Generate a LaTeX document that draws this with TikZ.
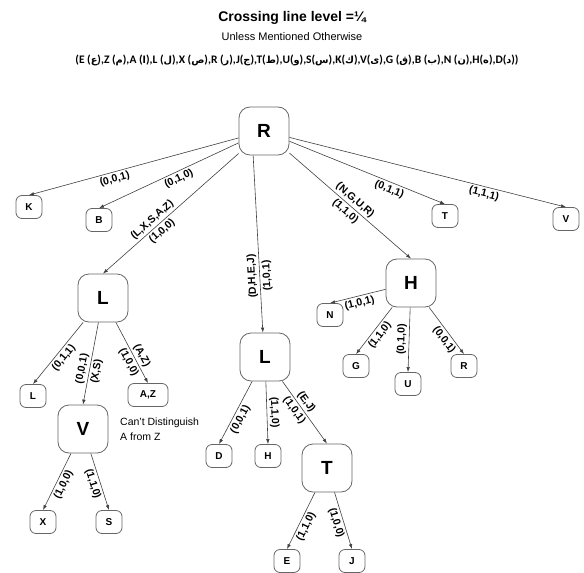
\documentclass[tikz,border=0pt]{standalone}
\usepackage{fontspec}
\setmainfont{Liberation Sans}
\newfontfamily\keyfont{Carlito}
\newfontfamily\arabicfont[Script=Arabic,Scale=0.85]{DejaVu Sans}
\TeXXeTstate=1
\usetikzlibrary{positioning,arrows.meta}
\newcommand{\ar}[1]{{\arabicfont\beginR #1\endR}}

\tikzset{
  big/.style={draw=black!60, line width=0.8pt, rounded corners=11pt,
    minimum width=50pt, minimum height=48pt, font=\bfseries\fontsize{19}{20}\selectfont},
  leaf/.style={draw=black!60, line width=0.8pt, rounded corners=6pt, inner sep=2pt,
    minimum width=26pt, minimum height=23pt, font=\bfseries\fontsize{10}{11}\selectfont},
  edge/.style={draw=black!75, line width=0.6pt, -{Latex[length=5pt,width=3.5pt]}},
  lbl/.style={font=\bfseries\fontsize{10.5}{11}\selectfont, sloped, inner sep=2.2pt},
}

\begin{document}
\begin{tikzpicture}[x=1pt,y=-1pt]
  \useasboundingbox (0,0) rectangle (584,573);

  \node[font=\bfseries\fontsize{14}{16}\selectfont] (title) at (292,18) {Crossing line level =¼};
  \node[font=\fontsize{11}{13}\selectfont] (sub) at (292,37) {Unless Mentioned Otherwise};
  \node[font=\keyfont\bfseries\fontsize{11.5}{13}\selectfont] (key) at (297,60)
    {(E (\ar{ع}),Z (\ar{م}),A (\ar{ا}),L (\ar{ل}),X (\ar{ص}),R (\ar{ر}),J(\ar{ج}),T(\ar{ط}),U(\ar{و}),S(\ar{س}),K(\ar{ك}),V(\ar{ی}),G (\ar{ق}),B (\ar{ب}),N (\ar{ن}),H(\ar{ه}),D(\ar{د}))};

  \node[big] (r) at (264,131) {R};
  \node[leaf] (k) at (29,207) {K};
  \node[leaf] (b) at (99,220) {B};
  \node[leaf] (t) at (445,216) {T};
  \node[leaf] (v) at (566,219) {V};
  \node[big] (l) at (103,298) {L};
  \node[big] (lm) at (265,357) {L};
  \node[big] (h) at (411,283) {H};

  \node[leaf] (n) at (330,315) {N};
  \node[leaf] (g) at (356,366) {G};
  \node[leaf] (u) at (408,384) {U};
  \node[leaf] (rr) at (464,366) {R};

  \node[leaf] (ll) at (33,396) {L};
  \node[leaf, minimum width=40pt] (az) at (148,395) {A,Z};
  \node[big] (vv) at (83,429) {V};
  \node[anchor=west, align=left, inner sep=0pt, font=\fontsize{10.5}{15}\selectfont] (note) at (120,429)
    {Can't Distinguish\\A from Z};
  \node[leaf] (x) at (43,522) {X};
  \node[leaf] (s) at (109,522) {S};

  \node[leaf] (d) at (219,456) {D};
  \node[leaf] (hh) at (268,456) {H};
  \node[big] (tt) at (327,468) {T};
  \node[leaf] (e) at (287,561) {E};
  \node[leaf] (j) at (352,561) {J};

  \draw[edge] (r) -- node[lbl, below, pos=0.6] {(0,0,1)} (k.north);
  \draw[edge] (r) -- node[lbl, below, pos=0.45] {(0,1,0)} (b.north);
  \draw[edge] (r) -- node[lbl, above, pos=0.6] {(L,X,S,A,Z)}
                     node[lbl, below, pos=0.6] {(1,0,0)} (l.north);
  \draw[edge] (r.-114) -- node[lbl, sloped=false, rotate=93, above, pos=0.68] {(D,H,E,J)}
                          node[lbl, sloped=false, rotate=93, below, pos=0.68] {(1,0,1)} (lm.95);
  \draw[edge] (r) -- node[lbl, above, pos=0.5] {(N,G,U,R)}
                     node[lbl, below, pos=0.5] {(1,1,0)} (h.north);
  \draw[edge] (r) -- node[lbl, below, pos=0.66] {(0,1,1)} (t.north);
  \draw[edge] (r) -- node[lbl, below, pos=0.71] {(1,1,1)} (v.north);

  \draw[edge] (h) -- node[lbl, below, pos=0.5] {(1,0,1)} (n.north);
  \draw[edge] (h) -- node[lbl, below, pos=0.5] {(1,1,0)} (g.north);
  \draw[edge] (h) -- node[lbl, above, pos=0.5] {(0,1,0)} (u.north);
  \draw[edge] (h) -- node[lbl, below, pos=0.6] {(0,0,1)} (rr.north);

  \draw[edge] (l) -- node[lbl, below, pos=0.5] {(0,1,1)} (ll.north);
  \draw[edge] (l) -- node[lbl, above, pos=0.58] {(0,0,1)}
                     node[lbl, below, pos=0.58] {(X,S)} (vv.north);
  \draw[edge] (l) -- node[lbl, above, pos=0.6] {(A,Z)}
                     node[lbl, below, pos=0.6] {(1,0,0)} (az.north);
  \draw[edge] (vv) -- node[lbl, below, pos=0.5] {(1,0,0)} (x.north);
  \draw[edge] (vv) -- node[lbl, below, pos=0.5] {(1,1,0)} (s.north);

  \draw[edge] (lm) -- node[lbl, below, pos=0.55] {(0,0,1)} (d.north);
  \draw[edge] (lm) -- node[lbl, above, pos=0.5] {(1,1,0)} (hh.north);
  \draw[edge] (lm) -- node[lbl, above, pos=0.4] {(E,J)}
                      node[lbl, below, pos=0.4] {(1,0,1)} (tt.north);
  \draw[edge] (tt) -- node[lbl, below, pos=0.55] {(1,1,0)} (e.north);
  \draw[edge] (tt) -- node[lbl, below, pos=0.5] {(1,0,0)} (j.north);
\end{tikzpicture}
\end{document}
